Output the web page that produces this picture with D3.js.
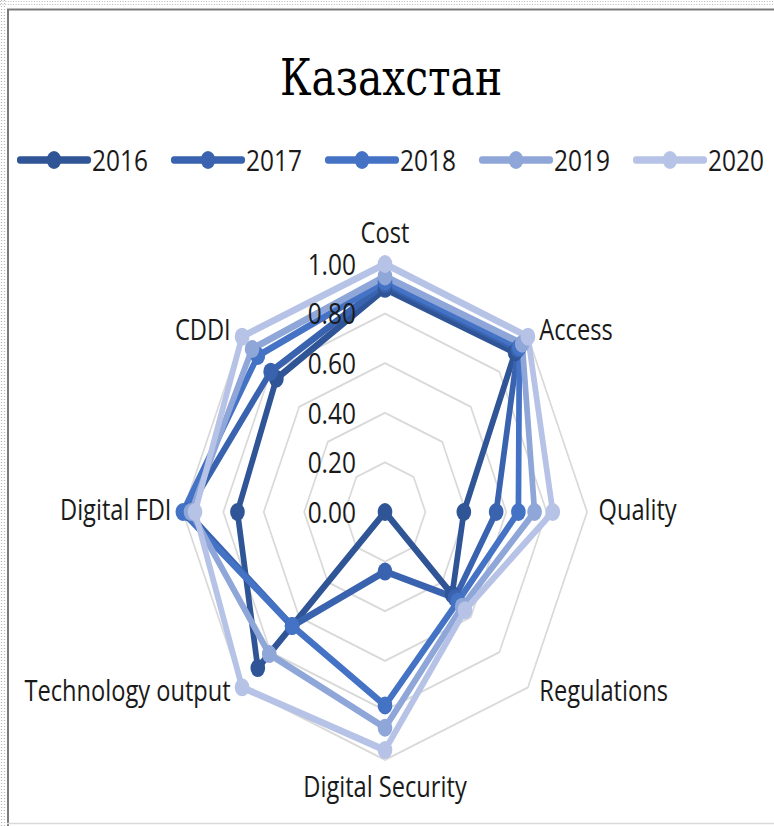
<!DOCTYPE html>
<html>
<head>
<meta charset="utf-8">
<script src="https://cdn.jsdelivr.net/npm/d3@7"></script>
<style>
  body { margin: 0; background: #fff; }
  svg { display: block; }
</style>
</head>
<body>
<script>
// chart data
let categories = ['Cost', 'Access', 'Quality', 'Regulations', 'Digital Security', 'Technology output', 'Digital FDI', 'CDDI'];
let years = ['2016', '2017', '2018', '2019', '2020'];
let v2016 = [0.90, 0.91, 0.39, 0.47, 0.00, 0.89, 0.73, 0.76];
let v2017 = [0.92, 0.93, 0.55, 0.49, 0.24, 0.65, 0.98, 0.80];
let v2018 = [0.93, 0.94, 0.66, 0.51, 0.78, 0.65, 1.00, 0.89];
let v2019 = [0.95, 0.96, 0.74, 0.54, 0.87, 0.81, 0.96, 0.93];
let v2020 = [1.00, 1.00, 0.83, 0.56, 0.96, 1.00, 0.94, 1.00];
let ticks = [0, 0.2, 0.4, 0.6, 0.8, 1.0];
let title = 'Казахстан';

let series = [v2016, v2017, v2018, v2019, v2020];
let colors = ['#2f5597', '#3a63af', '#4472c4', '#8fa6d8', '#b6c3e6'];

// the picture is squeezed sideways, so draw in a wider box and let the viewBox squash it
let width = 774, height = 826, sx = 0.815;
let vw = width / sx;
let cx = 385 / sx, cy = 512;

let svg = d3.select('body').append('svg')
    .attr('width', width)
    .attr('height', height)
    .attr('viewBox', `0 0 ${vw} ${height}`)
    .attr('preserveAspectRatio', 'none');

// frame
svg.append('rect').attr('x', 0).attr('y', 0).attr('width', vw).attr('height', height).attr('fill', '#fff');
[1.5, 4.5].forEach(p => {
    svg.append('line').attr('x1', p / sx).attr('x2', p / sx).attr('y1', 0).attr('y2', height)
        .attr('stroke', '#b8b8b8').attr('stroke-width', 1.2 / sx).attr('stroke-dasharray', '1,2');
    svg.append('line').attr('x1', 0).attr('x2', vw).attr('y1', p).attr('y2', p)
        .attr('stroke', '#b8b8b8').attr('stroke-width', 1.2).attr('stroke-dasharray', '1.2,2');
});
svg.append('line').attr('x1', 8 / sx).attr('x2', 8 / sx).attr('y1', 9).attr('y2', height)
    .attr('stroke', '#7a7a7a').attr('stroke-width', 2 / sx);
svg.append('line').attr('x1', 7 / sx).attr('x2', vw).attr('y1', 9.5).attr('y2', 9.5)
    .attr('stroke', '#7a7a7a').attr('stroke-width', 2);
svg.append('line').attr('x1', 7 / sx).attr('x2', vw).attr('y1', 823.5).attr('y2', 823.5)
    .attr('stroke', '#d9d9d9').attr('stroke-width', 1.5);

// title
svg.append('text')
    .attr('x', 391 / sx)
    .attr('y', 95)
    .attr('text-anchor', 'middle')
    .attr('font-family', '"DejaVu Serif", serif')
    .attr('font-size', 50)
    .attr('fill', '#000')
    .text(title);

// legend
let legend = svg.append('g').attr('font-family', '"Open Sans", sans-serif');
let legX = d3.scaleLinear().domain([0, 1]).range([20 / sx, 174 / sx]);
years.forEach((y, i) => {
    let x0 = legX(i);
    legend.append('line')
        .attr('x1', x0).attr('x2', x0 + 68 / sx)
        .attr('y1', 160).attr('y2', 160)
        .attr('stroke', colors[i]).attr('stroke-width', 7.5).attr('stroke-linecap', 'round');
    legend.append('circle')
        .attr('cx', x0 + 34 / sx).attr('cy', 160).attr('r', 9)
        .attr('fill', colors[i]);
    legend.append('text')
        .attr('x', x0 + 72 / sx).attr('y', 160)
        .attr('dy', '0.36em')
        .attr('font-size', 30)
        .attr('fill', '#1a1a1a')
        .text(y);
});

// radar
let n = categories.length;
let r = d3.scaleLinear().domain([0, 1]).range([0, 248]);
let angle = i => 2 * Math.PI * i / n;

let g = svg.append('g').attr('transform', `translate(${cx},${cy})`);

let ring = d3.lineRadial()
    .angle((d, i) => angle(i))
    .radius(d => r(d))
    .curve(d3.curveLinearClosed);

g.selectAll('.grid')
    .data(ticks.filter(t => t > 0))
    .join('path')
    .attr('class', 'grid')
    .attr('d', t => ring(categories.map(() => t)))
    .attr('fill', 'none')
    .attr('stroke', '#d9d9d9')
    .attr('stroke-width', 2);

g.selectAll('.series')
    .data(series)
    .join('path')
    .attr('class', 'series')
    .attr('d', d => ring(d))
    .attr('fill', 'none')
    .attr('stroke', (d, i) => colors[i])
    .attr('stroke-width', 7)
    .attr('stroke-linejoin', 'round');

series.forEach((s, k) => {
    g.selectAll('.pt' + k)
        .data(s)
        .join('circle')
        .attr('class', 'pt' + k)
        .attr('cx', (d, i) => r(d) * Math.sin(angle(i)))
        .attr('cy', (d, i) => -r(d) * Math.cos(angle(i)))
        .attr('r', 9)
        .attr('fill', colors[k]);
});

// tick labels sit above the lines
g.selectAll('.ticklabel')
    .data(ticks)
    .join('text')
    .attr('class', 'ticklabel')
    .attr('x', -29 / sx)
    .attr('y', t => -r(t))
    .attr('dy', '0.36em')
    .attr('text-anchor', 'end')
    .attr('font-family', '"Open Sans", sans-serif')
    .attr('font-size', 30)
    .attr('fill', '#1a1a1a')
    .text(t => t.toFixed(2));

// axis labels
let labelData = categories.map((c, i) => {
    let a = angle(i);
    let s = Math.sin(a), co = Math.cos(a);
    let anchor = Math.abs(s) < 0.01 ? 'middle' : (s > 0 ? 'start' : 'end');
    let dy = co > 0.99 ? -31 : co < -0.99 ? 27 : co > 0.01 ? -7 : co < -0.01 ? 3 : -2;
    let dx = Math.abs(s) < 0.01 ? 0 : Math.sign(s) * 14;
    return {
        name: c,
        anchor: anchor,
        x: r(1) * s + dx,
        y: -r(1) * co + dy
    };
});

g.selectAll('.axislabel')
    .data(labelData)
    .join('text')
    .attr('class', 'axislabel')
    .attr('x', d => d.x)
    .attr('y', d => d.y)
    .attr('dy', '0.36em')
    .attr('text-anchor', d => d.anchor)
    .attr('font-family', '"Open Sans", sans-serif')
    .attr('font-size', 29)
    .attr('fill', '#1a1a1a')
    .text(d => d.name);
</script>
</body>
</html>
